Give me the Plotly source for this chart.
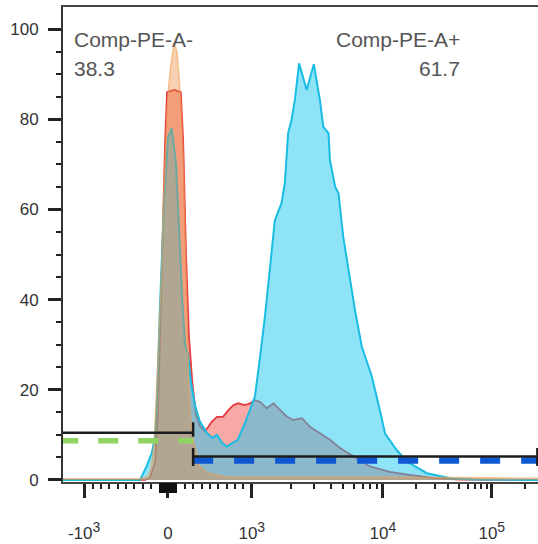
import numpy as np
import plotly.graph_objects as go

# ---- histogram data: display channel (0-1000) vs % of max ----
cyan_ch = [0, 162, 176, 187, 194, 198, 204, 213, 221, 229, 238, 244, 251, 257, 263, 269, 278, 288, 303, 314,
           324, 335, 345, 356, 368, 383, 394, 404, 415, 425, 436, 446, 460, 467, 474, 481, 488, 497, 513, 528,
           541, 548, 559, 562, 573, 580, 590, 601, 615, 629, 650, 667, 678, 702, 724, 766, 815, 863, 1000]
cyan_pct = [0, 0, 3.0, 6.0, 9.6, 18, 38, 62, 76, 78, 70, 55, 40, 30, 28, 22, 16.5, 13, 10.4, 9.3,
            10.0, 8.2, 7.4, 8.2, 8.9, 12.6, 15.5, 18.5, 27.4, 36.2, 47.3, 57.6, 61.4, 65.9, 77.0, 79.8, 84.2, 92.4, 86.5, 92.2,
            84.2, 78.3, 76.9, 70.9, 65.0, 63.6, 53.9, 46.6, 37.5, 29.6, 23.0, 15.5, 10.3, 6.7, 4.1, 1.5, 0.4, 0.1, 0]

red_ch = [0, 173, 183, 194, 200, 206, 211, 215, 219, 234, 248, 253, 259, 265, 272, 280, 288, 299, 306, 313,
          324, 337, 348, 359, 369, 383, 394, 404, 415, 429, 443, 457, 472, 485, 503, 520, 541, 562, 583, 611,
          646, 688, 730, 783, 836, 1000]
red_pct = [0, 0, 0.5, 4, 15, 40, 56, 75, 86, 86.5, 86, 75, 50, 32, 22, 14.5, 12, 10.8, 11.8, 12.9,
           14.0, 14.0, 15.5, 16.6, 17.0, 16.6, 17.0, 17.7, 17.3, 15.9, 17.0, 15.5, 14.0, 13.3, 13.7, 11.8, 10.4, 8.9, 7.1, 5.2,
           3.0, 1.8, 1.1, 0.4, 0.1, 0]

orange_ch = [0, 162, 179, 185, 192, 197, 201, 204, 208, 211, 215, 219, 223, 227, 234, 240, 244, 248, 253, 257,
             261, 265, 269, 275, 282, 288, 301, 318, 343, 400, 500, 700, 900, 1000]
orange_pct = [0.3, 0.3, 0.8, 2.5, 8, 20, 30, 40, 48, 60, 72, 82, 88, 92, 97, 95, 90, 84, 72, 55,
              35, 20, 13, 8.5, 5.5, 3.0, 1.8, 1.2, 0.7, 0.7, 0.6, 0.6, 0.5, 0.4]

# ---- axis ticks (fluorescence units) ----
major_vals = [-1000, 0, 1000, 10000, 100000]
major_text = ["-10<sup><span style='font-size:14px'>3</span></sup>", "0",
              "10<sup><span style='font-size:14px'>3</span></sup>",
              "10<sup><span style='font-size:14px'>4</span></sup>",
              "10<sup><span style='font-size:14px'>5</span></sup>"]
minor_vals = (list(range(-900, -100, 100)) + list(range(200, 1000, 100)) +
              list(range(2000, 10000, 1000)) + list(range(20000, 100000, 10000)) + [200000])
zero_cluster_vals = list(range(-100, 101, 10))
y_major = [0, 20, 40, 60, 80, 100]

# ---- gates ----
gate_split = 300          # boundary between PE- and PE+
gate_max = 262144
gate_names = ["Comp-PE-A-", "Comp-PE-A+"]
gate_freq = ["38.3", "61.7"]
neg_gate_level, pos_gate_level = 10.5, 5.2
neg_dash_level, pos_dash_level = 8.7, 4.3

# biexponential-style display: linear around zero, log above 10^3
ZERO_CH = 221.0
LIN_SPAN = 176.5      # channels per 1000 units near zero
DECADE_LO = 275.8     # 10^3 -> 10^4
DECADE_HI = 229.4     # 10^4 and above


def to_channel(v):
    v = float(v)
    if abs(v) <= 1000:
        return ZERO_CH + v / 1000.0 * LIN_SPAN
    if v > 10000:
        return ZERO_CH + LIN_SPAN + DECADE_LO + DECADE_HI * np.log10(v / 10000.0)
    if v > 1000:
        return ZERO_CH + LIN_SPAN + DECADE_LO * np.log10(v / 1000.0)
    return ZERO_CH - LIN_SPAN - DECADE_LO * np.log10(-v / 1000.0)


FONT = "Liberation Sans, Arial, sans-serif"

fig = go.Figure()

fig.add_trace(go.Scatter(x=red_ch, y=red_pct, mode="lines", fill="tozeroy",
                         fillcolor="rgba(240,75,70,0.48)",
                         line=dict(color="#e43a40", width=1.8), hoverinfo="skip"))
fig.add_trace(go.Scatter(x=cyan_ch, y=cyan_pct, mode="lines", fill="tozeroy",
                         fillcolor="rgba(30,200,240,0.5)",
                         line=dict(color="#19bde3", width=2), hoverinfo="skip"))
fig.add_trace(go.Scatter(x=orange_ch, y=orange_pct, mode="lines", fill="tozeroy",
                         fillcolor="rgba(236,140,60,0.40)",
                         line=dict(color="rgba(240,160,85,0.6)", width=1.4), hoverinfo="skip"))
# carrier for the dense tick block around zero
fig.add_trace(go.Scatter(x=[None], y=[None], xaxis="x2", mode="lines",
                         showlegend=False, hoverinfo="skip"))

split_ch = to_channel(gate_split)
max_ch = to_channel(gate_max)

shapes = []
# dashed gate markers
shapes.append(dict(type="line", xref="x", yref="y", x0=-10, x1=split_ch,
                   y0=neg_dash_level, y1=neg_dash_level,
                   line=dict(color="#8fd462", width=5.5, dash="20px,20px")))
shapes.append(dict(type="line", xref="x", yref="y", x0=split_ch, x1=max_ch,
                   y0=pos_dash_level, y1=pos_dash_level,
                   line=dict(color="#0f58d4", width=6.5, dash="20px,21px")))
# black gate bars with end caps
shapes.append(dict(type="line", xref="x", yref="y", x0=0, x1=split_ch,
                   y0=neg_gate_level, y1=neg_gate_level, line=dict(color="#1c1c1c", width=2.5)))
shapes.append(dict(type="line", xref="x", yref="y", x0=split_ch, x1=split_ch,
                   y0=neg_gate_level - 0.9, y1=neg_gate_level + 2.3, line=dict(color="#1c1c1c", width=2.5)))
shapes.append(dict(type="line", xref="x", yref="y", x0=split_ch, x1=max_ch,
                   y0=pos_gate_level, y1=pos_gate_level, line=dict(color="#1c1c1c", width=2.5)))
for xc in (split_ch, max_ch):
    shapes.append(dict(type="line", xref="x", yref="y", x0=xc, x1=xc,
                       y0=pos_gate_level - 2.1, y1=pos_gate_level + 1.9,
                       line=dict(color="#1c1c1c", width=2.5)))

ann_font = dict(family=FONT, size=21, color="#555555")
annotations = [
    dict(xref="paper", yref="paper", x=0.019, y=0.932, text=gate_names[0], showarrow=False,
         xanchor="left", yanchor="middle", font=ann_font),
    dict(xref="paper", yref="paper", x=0.019, y=0.871, text=gate_freq[0], showarrow=False,
         xanchor="left", yanchor="middle", font=ann_font),
    dict(xref="paper", yref="paper", x=0.84, y=0.932, text=gate_names[1], showarrow=False,
         xanchor="right", yanchor="middle", font=ann_font),
    dict(xref="paper", yref="paper", x=0.84, y=0.871, text=gate_freq[1], showarrow=False,
         xanchor="right", yanchor="middle", font=ann_font),
]

fig.update_layout(
    width=538, height=544,
    margin=dict(l=63, r=0, t=7, b=62),
    paper_bgcolor="white", plot_bgcolor="white",
    showlegend=False,
    shapes=shapes,
    annotations=annotations,
    font=dict(family=FONT, color="#333333"),
    xaxis=dict(
        range=[0, 1000], showgrid=False, zeroline=False,
        tickmode="array", tickvals=[to_channel(v) for v in major_vals], ticktext=major_text,
        ticks="outside", ticklen=14, tickwidth=2.5, tickcolor="#222222",
        tickfont=dict(family=FONT, size=17, color="#333333"),
        ticklabelstandoff=21,
        minor=dict(tickmode="array", tickvals=[to_channel(v) for v in minor_vals],
                   ticks="outside", ticklen=5, tickwidth=1.5, tickcolor="#222222"),
        showline=True, linecolor="#444444", linewidth=1.5, mirror=True,
    ),
    xaxis2=dict(
        range=[0, 1000], overlaying="x", anchor="y", side="bottom",
        showgrid=False, zeroline=False, showline=False, showticklabels=False,
        tickmode="array", tickvals=[to_channel(v) for v in zero_cluster_vals],
        ticks="outside", ticklen=10, tickwidth=1.5, tickcolor="#111111",
    ),
    yaxis=dict(
        range=[-0.45, 104.9], showgrid=False, zeroline=False,
        tickmode="array", tickvals=y_major,
        ticks="outside", ticklen=13, tickwidth=2.5, tickcolor="#222222",
        tickfont=dict(family=FONT, size=17, color="#333333"),
        ticklabelstandoff=6,
        minor=dict(dtick=5, tick0=0, ticks="outside", ticklen=5, tickwidth=1.5, tickcolor="#222222"),
        showline=True, linecolor="#333333", linewidth=2,
    ),
)

fig.write_html("out.html")
